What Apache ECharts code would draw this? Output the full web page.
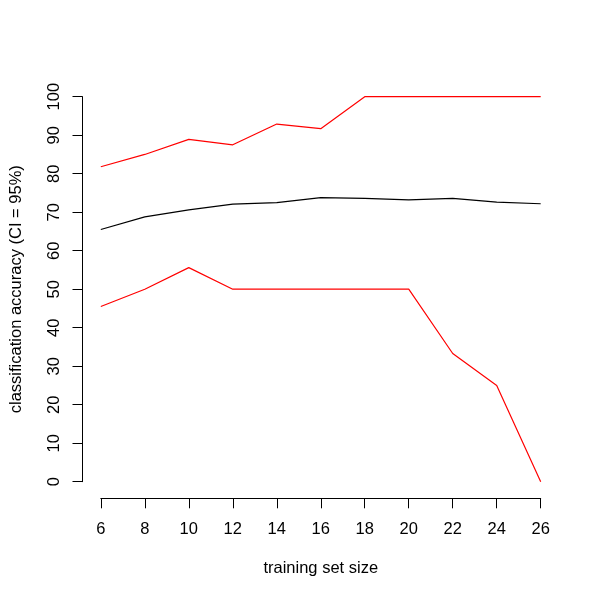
<!DOCTYPE html>
<html>
<head>
<meta charset="utf-8">
<script src="https://cdn.jsdelivr.net/npm/echarts@6/dist/echarts.min.js"></script>
<style>html,body{margin:0;padding:0;background:#fff}#c{width:600px;height:600px}</style>
</head>
<body>
<div id="c"></div>
<script>
var trainingSize = [6, 8, 10, 12, 14, 16, 18, 20, 22, 24, 26];
var meanAccuracy = [65.5, 68.8, 70.6, 72.1, 72.5, 73.8, 73.6, 73.2, 73.6, 72.6, 72.2];
var upperCI = [81.8, 85.0, 88.9, 87.5, 92.9, 91.7, 100, 100, 100, 100, 100];
var lowerCI = [45.5, 50.0, 55.6, 50.0, 50.0, 50.0, 50.0, 50.0, 33.3, 25.0, 0];

function pairs(ys) { return trainingSize.map(function (x, i) { return [x, ys[i]]; }); }

var font = 'Liberation Sans, Arial, Helvetica, sans-serif';
var fs = 16.5;
var chart = echarts.init(document.getElementById('c'), null, { renderer: 'canvas' });
chart.setOption({
  animation: false,
  backgroundColor: '#ffffff',
  grid: { left: 100, right: 59.3, top: 96.7, bottom: 118.3, containLabel: false },
  xAxis: {
    type: 'value', min: 6, max: 26, interval: 2, offset: 16.6,
    name: 'training set size', nameLocation: 'middle', nameGap: 62,
    nameTextStyle: { color: '#000', fontSize: fs, fontFamily: font },
    axisLine: { show: true, onZero: false, lineStyle: { color: '#000', width: 1 } },
    axisTick: { show: true, length: 10, lineStyle: { color: '#000', width: 1 } },
    axisLabel: { color: '#000', fontSize: fs, fontFamily: font, margin: 23 },
    splitLine: { show: false }
  },
  yAxis: {
    type: 'value', min: 0, max: 100, interval: 10, offset: 18.3,
    name: 'classification accuracy (CI = 95%)', nameLocation: 'middle', nameGap: 57.5,
    nameTextStyle: { color: '#000', fontSize: fs, fontFamily: font },
    axisLine: { show: true, onZero: false, lineStyle: { color: '#000', width: 1 } },
    axisTick: { show: true, length: 10, lineStyle: { color: '#000', width: 1 } },
    axisLabel: { color: '#000', fontSize: fs, fontFamily: font, margin: 20, rotate: 90 },
    splitLine: { show: false }
  },
  series: [
    { type: 'line', data: pairs(upperCI), symbol: 'none', lineStyle: { color: '#ff0000', width: 1.2 }, itemStyle: { color: '#ff0000' } },
    { type: 'line', data: pairs(meanAccuracy), symbol: 'none', lineStyle: { color: '#000000', width: 1.2 }, itemStyle: { color: '#000000' } },
    { type: 'line', data: pairs(lowerCI), symbol: 'none', lineStyle: { color: '#ff0000', width: 1.2 }, itemStyle: { color: '#ff0000' } }
  ]
});
</script>
</body>
</html>
